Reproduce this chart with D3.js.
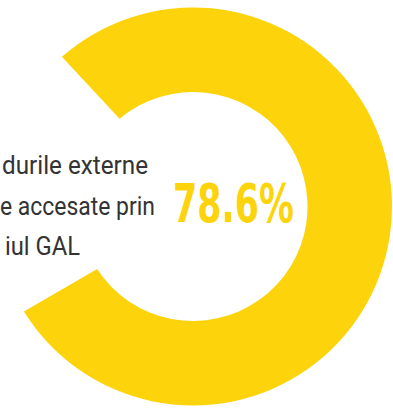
<!DOCTYPE html>
<html><head><meta charset="utf-8">
<script src="https://cdn.jsdelivr.net/npm/d3@7"></script>
<style>html,body{margin:0;padding:0;background:#fff;overflow:hidden}</style>
</head><body><svg id="c" width="393" height="408"></svg>
<script>
const categories = ["Da", "Rest"];
const values = [78.6, 21.4];
const valueLabel = "78.6%";
const labelLines = ["durile externe", "e accesate prin", "iul GAL"];

const svg = d3.select("#c");
const cx = 193, cy = 206.5, rOut = 199, rIn = 114.5;
const start = -43 * Math.PI / 180;
const pie = d3.pie().sort(null).value(d => d).startAngle(start).endAngle(start + 2 * Math.PI);
const arc = d3.arc().innerRadius(rIn).outerRadius(rOut).padAngle(0.054);
const g = svg.append("g").attr("transform", `translate(${cx},${cy})`);
g.selectAll("path").data(pie(values)).join("path")
  .attr("d", arc)
  .attr("fill", (d, i) => i === 0 ? "#FDD30C" : "none");

svg.append("text").attr("x", 173).attr("y", 222)
  .attr("font-family", "'Liberation Sans Narrow', 'DejaVu Sans Condensed', sans-serif")
  .attr("font-weight", "bold").attr("font-size", 54).attr("fill", "#FDD30C")
  .attr("textLength", 121).attr("lengthAdjust", "spacingAndGlyphs")
  .text(valueLabel);

const lineX = [2, 0, 5], lineY = [174, 214.5, 255], lineW = [146, 155, 75];
svg.selectAll("text.lbl").data(labelLines).join("text").attr("class", "lbl")
  .attr("x", (d, i) => lineX[i]).attr("y", (d, i) => lineY[i])
  .attr("font-family", "Roboto, sans-serif").attr("font-size", 25.5).attr("fill", "#333")
  .attr("textLength", (d, i) => lineW[i]).attr("lengthAdjust", "spacingAndGlyphs")
  .text(d => d);
</script></body></html>
